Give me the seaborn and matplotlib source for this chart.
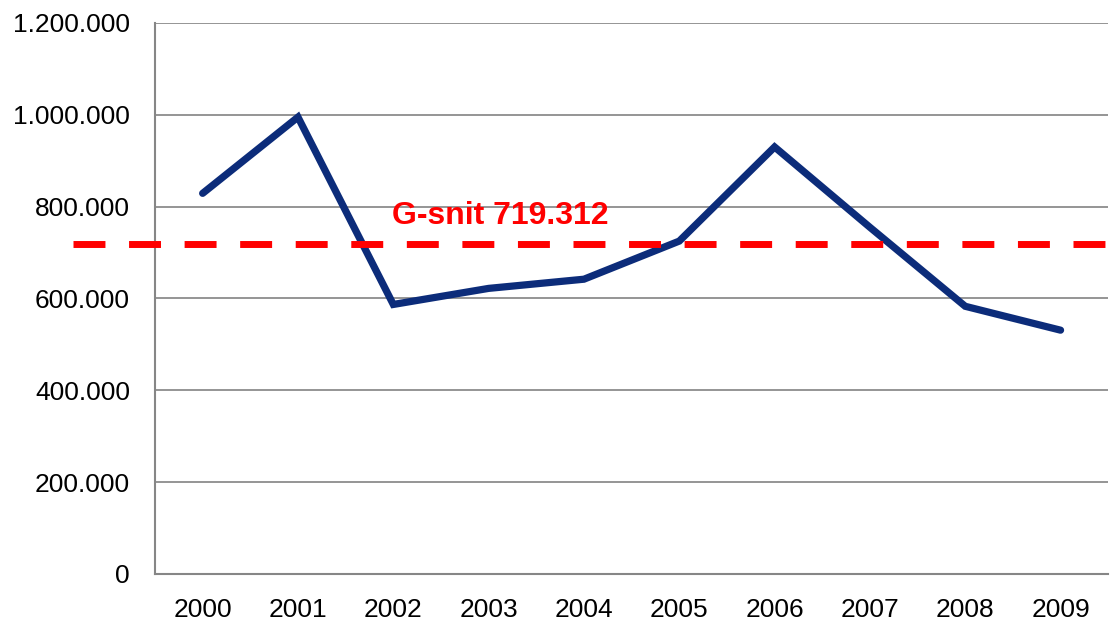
import numpy as np
import pandas as pd
import seaborn as sns
import matplotlib.pyplot as plt
from matplotlib.ticker import FuncFormatter, MultipleLocator, FixedLocator

# Data
years = ['2000', '2001', '2002', '2003', '2004', '2005', '2006', '2007', '2008', '2009']
values = [829000, 995000, 587000, 622000, 642000, 725000, 930000, 755000, 583000, 531000]
average = 719312
avg_label = 'G-snit 719.312'

df = pd.DataFrame({'year': years, 'value': values})

sns.set_theme(style='white')
plt.rcParams['font.family'] = ['Liberation Sans', 'DejaVu Sans']

fig = plt.figure(figsize=(11.11, 6.28), dpi=100)
ax = fig.add_axes([0.1395, 0.086, 0.858, 0.8774])

sns.lineplot(data=df, x='year', y='value', ax=ax, color='#0c2c7a', linewidth=5.2,
             solid_capstyle='round', solid_joinstyle='miter', zorder=3)

# gennemsnitslinje, går ud over venstre akse
ax.axhline(average, xmin=-0.086, xmax=1.004, color='#ff0000', linewidth=5,
           dashes=(4.6, 3.4), clip_on=False, zorder=4)
ax.text(0.362, 762000, avg_label, transform=ax.get_yaxis_transform(),
        ha='center', va='baseline', color='#ff0000', fontsize=23, fontweight='bold')

ax.set_xlim(-0.5, 9.5)
ax.set_ylim(0, 1200000)
ax.yaxis.set_major_locator(MultipleLocator(200000))
ax.yaxis.set_major_formatter(FuncFormatter(lambda v, p: f'{int(v):,}'.replace(',', '.')))
ax.grid(axis='y', color='#8c8c8c', linewidth=1.3)
ax.grid(axis='x', visible=False)

ax.xaxis.set_minor_locator(FixedLocator(np.arange(-0.5, 10, 1)))
ax.tick_params(axis='x', which='major', length=0, pad=17, labelsize=19, labelcolor='black')
ax.tick_params(axis='x', which='minor', length=6, width=1.3, color='#868686', direction='out')
ax.tick_params(axis='y', length=6, width=1.3, color='#868686', direction='out', pad=12,
               labelsize=19, labelcolor='black')

for s in ['top', 'right']:
    ax.spines[s].set_visible(False)
for s in ['left', 'bottom']:
    ax.spines[s].set_color('#868686')
    ax.spines[s].set_linewidth(1.5)

ax.set_xlabel('')
ax.set_ylabel('')

fig.savefig('out.png', dpi=100)
